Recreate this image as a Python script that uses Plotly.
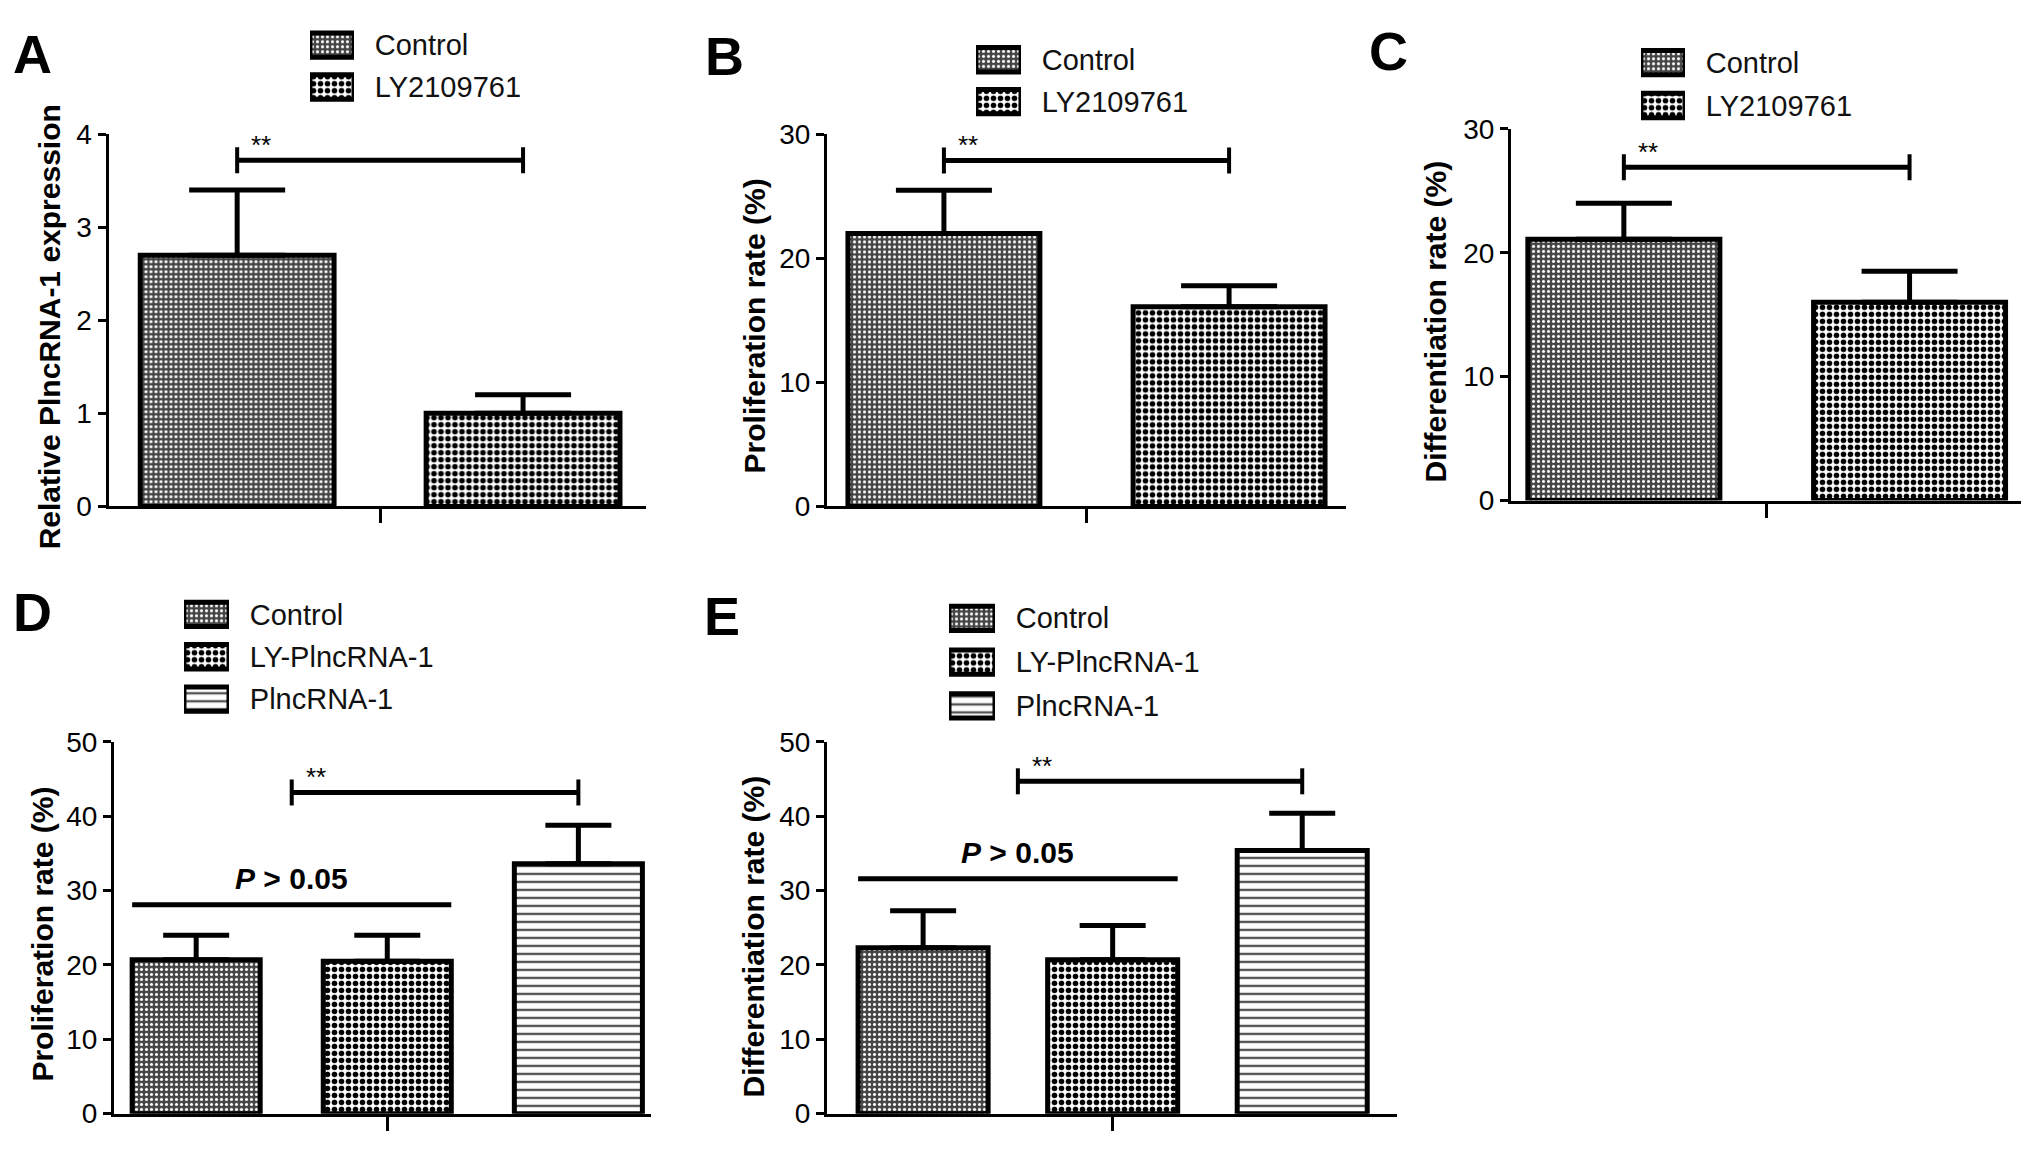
import plotly.graph_objects as go

W, H = 2031, 1153

# ---------------- data ----------------
groups_two = ["Control", "LY2109761"]
groups_three = ["Control", "LY-PlncRNA-1", "PlncRNA-1"]

a_mean = [2.70, 1.00]
a_sem = [0.70, 0.20]
b_mean = [22.0, 16.1]
b_sem = [3.5, 1.7]
c_mean = [21.1, 16.0]
c_sem = [2.9, 2.5]
d_mean = [20.7, 20.5, 33.6]
d_sem = [3.3, 3.5, 5.2]
e_mean = [22.3, 20.7, 35.4]
e_sem = [5.0, 4.6, 5.0]

a_yticks = [0, 1, 2, 3, 4]
bc_yticks = [0, 10, 20, 30]
de_yticks = [0, 10, 20, 30, 40, 50]

a_title = "Relative PlncRNA-1 expression"
b_title = "Proliferation rate (%)"
c_title = "Differentiation rate (%)"
d_title = "Proliferation rate (%)"
e_title = "Differentiation rate (%)"

# significance marks (data units)
star_y = [3.72, 27.9, 26.9, 43.2, 44.7]
ns_y = [None, None, None, 28.1, 31.6]
ns_text = "<b><i>P</i> &gt; 0.05</b>"
star_text = "**"

# ---------------- styles ----------------
FONT = "Liberation Sans, Arial, sans-serif"
PATTERNS = {
    "Control": dict(shape=".", size=5, solidity=0.30, fg="#ffffff", bg="#454545"),
    "LY2109761": dict(shape=".", size=7, solidity=0.50, fg="#000000", bg="#ffffff"),
    "LY-PlncRNA-1": dict(shape=".", size=7, solidity=0.50, fg="#000000", bg="#ffffff"),
    "PlncRNA-1": dict(shape="-", size=8, solidity=0.30, fg="#555555", bg="#ffffff"),
}


def px(x):
    return x / W


def py(y):
    return 1 - y / H


def pattern_for(cats):
    return dict(
        shape=[PATTERNS[c]["shape"] for c in cats],
        size=[PATTERNS[c]["size"] for c in cats],
        solidity=[PATTERNS[c]["solidity"] for c in cats],
        fgcolor=[PATTERNS[c]["fg"] for c in cats],
        bgcolor=[PATTERNS[c]["bg"] for c in cats],
        fillmode="replace",
    )


panels = [
    dict(letter="A", cats=groups_two, mean=a_mean, sem=a_sem, yticks=a_yticks, title=a_title,
         xdom=(108.5, 646), ydom=(505, 122.5), xr=(-0.45, 1.43), bw=0.678, cap=48,
         title_xy=(49, 321), letter_xy=(32, 40), leg_x=(310, 354), leg_c=(31, 74)),
    dict(letter="B", cats=groups_two, mean=b_mean, sem=b_sem, yticks=bc_yticks, title=b_title,
         xdom=(827, 1346), ydom=(505, 122.7), xr=(-0.41, 1.41), bw=0.673, cap=48,
         title_xy=(754, 320), letter_xy=(724, 42), leg_x=(976, 1021), leg_c=(46, 89)),
    dict(letter="C", cats=groups_two, mean=c_mean, sem=c_sem, yticks=bc_yticks, title=c_title,
         xdom=(1511, 2021), ydom=(499, 117), xr=(-0.395, 1.39), bw=0.672, cap=48,
         title_xy=(1436, 315), letter_xy=(1388, 37), leg_x=(1641, 1685), leg_c=(49, 93)),
    dict(letter="D", cats=groups_three, mean=d_mean, sem=d_sem, yticks=de_yticks, title=d_title,
         xdom=(114, 651), ydom=(1129, 747), xr=(-0.43, 2.38), bw=0.67, cap=33,
         title_xy=(43, 945), letter_xy=(32, 614), leg_x=(184, 229), leg_c=(616, 660, 703)),
    dict(letter="E", cats=groups_three, mean=e_mean, sem=e_sem, yticks=de_yticks, title=e_title,
         xdom=(827, 1397), ydom=(1129, 747), xr=(-0.507, 2.50), bw=0.686, cap=33,
         title_xy=(754, 947), letter_xy=(722, 618), leg_x=(949, 995), leg_c=(620, 665, 710)),
]

fig = go.Figure()
layout = dict(
    width=W, height=H, margin=dict(l=0, r=0, t=0, b=0),
    paper_bgcolor="white", plot_bgcolor="white", showlegend=False,
    font=dict(family=FONT, color="black"),
)
annotations = []
shapes = []

for i, p in enumerate(panels):
    n = len(p["cats"])
    ax = i + 1
    xa = "x" if ax == 1 else f"x{ax}"
    ya = "y" if ax == 1 else f"y{ax}"
    xpos = list(range(n))

    fig.add_trace(go.Bar(
        x=xpos, y=p["mean"], width=p["bw"], xaxis=xa, yaxis=ya,
        marker=dict(line=dict(color="black", width=5), pattern=pattern_for(p["cats"])),
        error_y=dict(type="data", array=p["sem"], arrayminus=[0] * n, symmetric=False,
                     thickness=5, width=p["cap"], color="black"),
        hoverinfo="skip",
    ))

    ymax = p["yticks"][-1]
    layout[f"xaxis{ax}"] = dict(
        domain=[px(p["xdom"][0]), px(p["xdom"][1])], range=list(p["xr"]), anchor=ya,
        showline=True, linecolor="black", linewidth=3, showgrid=False, zeroline=False,
        tickmode="array", tickvals=[(n - 1) / 2], ticktext=[""], ticks="outside",
        ticklen=14, tickwidth=3, tickcolor="black", showticklabels=False, fixedrange=True,
    )
    layout[f"yaxis{ax}"] = dict(
        domain=[py(p["ydom"][0]), py(p["ydom"][1])], range=[0, ymax], anchor=xa,
        showline=True, linecolor="black", linewidth=3, showgrid=False, zeroline=False,
        tickmode="array", tickvals=p["yticks"], ticks="outside", ticklen=8, tickwidth=3,
        tickcolor="black", tickfont=dict(size=28, family=FONT, color="black"), fixedrange=True,
    )

    # significance bracket (**)
    sy = star_y[i]
    x_left = 0 if n == 2 else 0.5
    x_right = n - 1
    shapes.append(dict(type="line", xref=xa, yref=ya, x0=x_left, x1=x_right, y0=sy, y1=sy,
                       line=dict(color="black", width=5)))
    for xe in (x_left, x_right):
        shapes.append(dict(type="line", xref=xa, yref=ya, x0=xe, x1=xe, ysizemode="pixel",
                           yanchor=sy, y0=-13, y1=13, line=dict(color="black", width=4)))
    annotations.append(dict(xref=xa, yref=ya, x=x_left, y=sy, text=star_text, showarrow=False,
                            xanchor="center", yanchor="middle", xshift=24, yshift=15,
                            font=dict(size=26, family=FONT, color="black")))

    # P > 0.05 line
    if ns_y[i] is not None:
        ny = ns_y[i]
        x0 = 0 - p["bw"] / 2
        x1 = 1 + p["bw"] / 2
        shapes.append(dict(type="line", xref=xa, yref=ya, x0=x0, x1=x1, y0=ny, y1=ny,
                           line=dict(color="black", width=5)))
        annotations.append(dict(xref=xa, yref=ya, x=0.5, y=ny, text=ns_text, showarrow=False,
                                xanchor="center", yanchor="middle", yshift=26,
                                font=dict(size=30, family=FONT, color="black")))

    # axis title
    tx, ty = p["title_xy"]
    annotations.append(dict(xref="paper", yref="paper", x=px(tx), y=py(ty), text=f"<b>{p['title']}</b>",
                            textangle=-90, showarrow=False, xanchor="center", yanchor="middle",
                            font=dict(size=30, family=FONT, color="black")))
    # panel letter
    lx, ly = p["letter_xy"]
    annotations.append(dict(xref="paper", yref="paper", x=px(lx), y=py(ly), text=f"<b>{p['letter']}</b>",
                            showarrow=False, xanchor="center", yanchor="middle",
                            font=dict(size=54, family=FONT, color="black")))

    # legend: pattern keys drawn as bars on a hidden axis, names as tick labels
    lax = ax + 5
    lxa, lya = f"x{lax}", f"y{lax}"
    centers = p["leg_c"]
    pitch = (centers[-1] - centers[0]) / (n - 1)
    top = centers[0] - pitch / 2
    bot = centers[-1] + pitch / 2
    fig.add_trace(go.Bar(
        y=p["cats"], x=[1] * n, orientation="h", width=25 / pitch, xaxis=lxa, yaxis=lya,
        marker=dict(line=dict(color="black", width=5), pattern=pattern_for(p["cats"])),
        cliponaxis=False, hoverinfo="skip",
    ))
    layout[f"xaxis{lax}"] = dict(domain=[px(p["leg_x"][0]), px(p["leg_x"][1])], range=[0, 1],
                                 anchor=lya, visible=False, fixedrange=True)
    layout[f"yaxis{lax}"] = dict(domain=[py(bot), py(top)], range=[n - 0.5, -0.5], anchor=lxa,
                                 type="category", side="right", showline=False, showgrid=False,
                                 zeroline=False, ticks="outside", ticklen=14,
                                 tickcolor="rgba(0,0,0,0)",
                                 tickfont=dict(size=29, family=FONT, color="#111"), fixedrange=True)

layout["annotations"] = annotations
layout["shapes"] = shapes
fig.update_layout(**layout)

fig.write_html("out.html", config={"displayModeBar": False},
               post_script="document.body.style.margin='0';document.body.style.overflow='hidden';")
